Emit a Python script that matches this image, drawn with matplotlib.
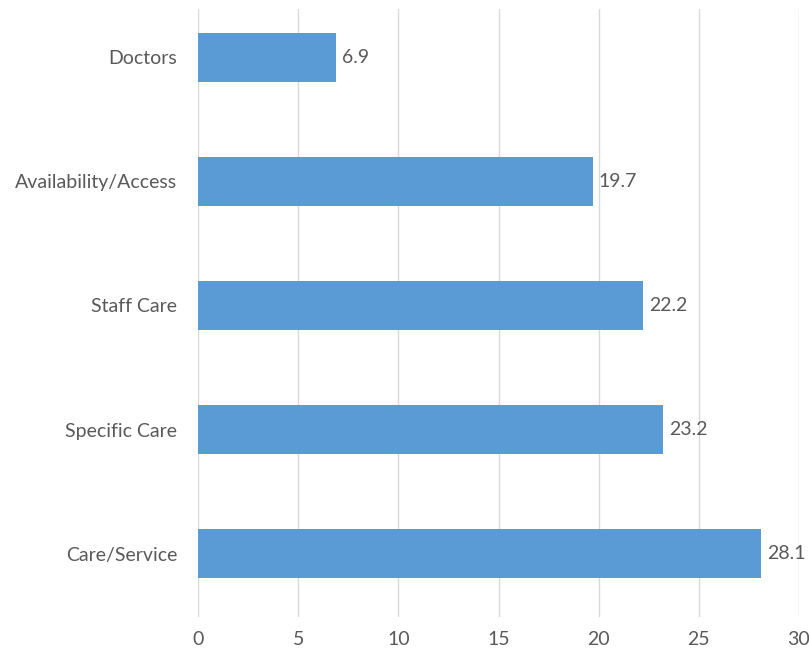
import matplotlib
matplotlib.use("Agg")
import matplotlib.pyplot as plt

# survey categories, bottom to top
categories = ["Care/Service", "Specific Care", "Staff Care", "Availability/Access", "Doctors"]
values = [28.1, 23.2, 22.2, 19.7, 6.9]
xticks = [0, 5, 10, 15, 20, 25, 30]

plt.rcParams["font.family"] = ["Lato", "DejaVu Sans"]
text_grey = "#595959"
bar_blue = "#5B9BD5"

fig = plt.figure(figsize=(8.09, 6.5), dpi=100)
ax = fig.add_axes([198 / 809, 1 - 617 / 650, (799 - 198) / 809, (617 - 9) / 650])

ypos = list(range(len(categories)))
ax.barh(ypos, values, height=0.395, color=bar_blue, zorder=3)

for y, v in zip(ypos, values):
    ax.text(v + 0.3, y, f"{v}", va="center", ha="left", fontsize=14, color=text_grey)

ax.set_xlim(0, 30)
ax.set_ylim(-0.512, len(categories) - 1 + 0.391)
ax.set_xticks(xticks)
ax.set_xticklabels([str(t) for t in xticks])
ax.set_yticks(ypos)
ax.set_yticklabels(categories)

ax.grid(axis="x", color="#D9D9D9", linewidth=1, zorder=0)
for s in ax.spines.values():
    s.set_visible(False)
ax.tick_params(axis="both", length=0, labelsize=14, labelcolor=text_grey)
ax.tick_params(axis="y", pad=15)
ax.tick_params(axis="x", pad=10)

fig.savefig("out.png", dpi=100)
